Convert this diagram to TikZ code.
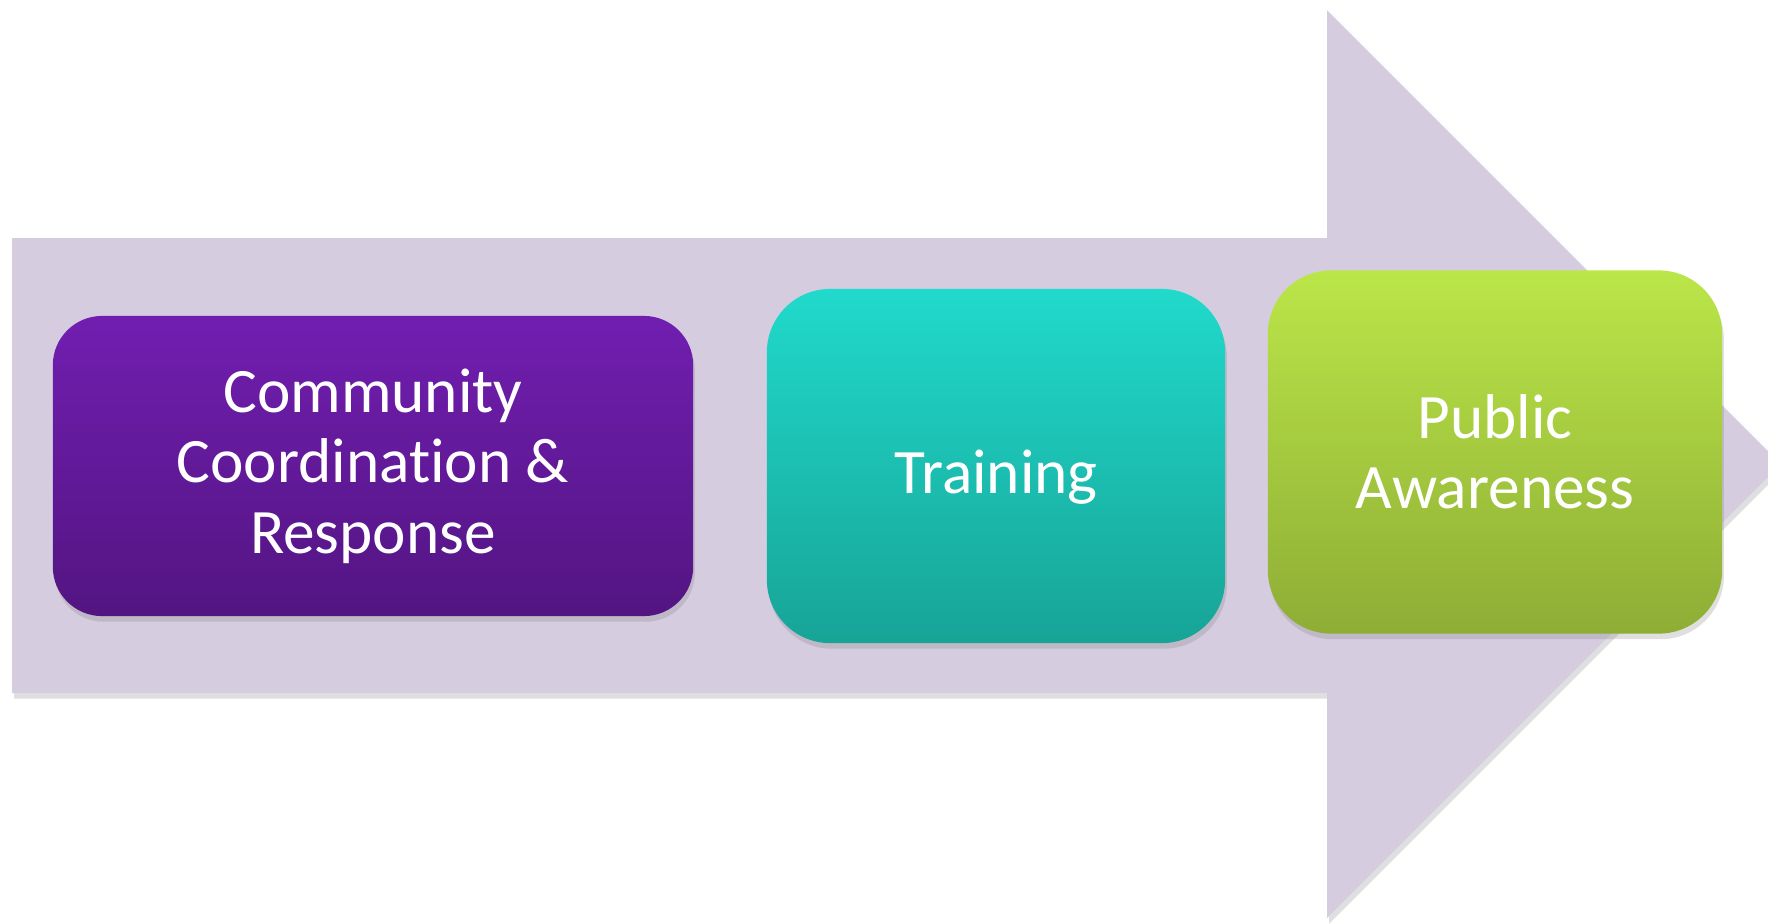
\documentclass[tikz,border=0pt]{standalone}
\usepackage{fontspec}
\setmainfont{Carlito}[Ligatures={NoCommon}]
\usetikzlibrary{shadows}

\definecolor{arrowfill}{HTML}{D5CCE0}
\definecolor{purpletop}{HTML}{711EB0}
\definecolor{purplebot}{HTML}{531582}
\definecolor{tealtop}{HTML}{20DACB}
\definecolor{tealbot}{HTML}{17A497}
\definecolor{limetop}{HTML}{BBE648}
\definecolor{limebot}{HTML}{8EAD36}

\tikzset{
  stage/.style={rounded corners=18pt, text=white, align=center,
    font=\fontsize{18}{20}\selectfont, inner sep=0pt,
    drop shadow={shadow xshift=0.5pt, shadow yshift=-1.6pt, opacity=0.25}},
}

\begin{document}
\begin{tikzpicture}[x=0.01cm, y=-0.01cm]

        % 画布大小
        \useasboundingbox (0,0) rectangle (1768,923);
        \clip (0,0) rectangle (1768,923);

        % 大箭头(背景)
        \fill[arrowfill, drop shadow={shadow xshift=0.6pt, shadow yshift=-1.6pt, opacity=0.25}]
            (12,238) -- (1327,238) -- (1327,10) -- (1781,464)
            -- (1327,918) -- (1327,693) -- (12,693) -- cycle;

        % 三个阶段
        \node[stage, top color=purpletop, bottom color=purplebot,
              minimum width=6.4cm, minimum height=3.0cm, rounded corners=14pt]
            (coord) at (373,466) {Community\\Coordination \&\\Response};
        \node[stage, top color=tealtop, bottom color=tealbot,
              minimum width=4.58cm, minimum height=3.54cm]
            (train) at (996,466) {\raisebox{-0.11cm}[\height][\depth]{Training}};
        \node[stage, top color=limetop, bottom color=limebot,
              minimum width=4.54cm, minimum height=3.63cm]
            (aware) at (1495,452) {Public\\Awareness};

    \end{tikzpicture}
\end{document}
